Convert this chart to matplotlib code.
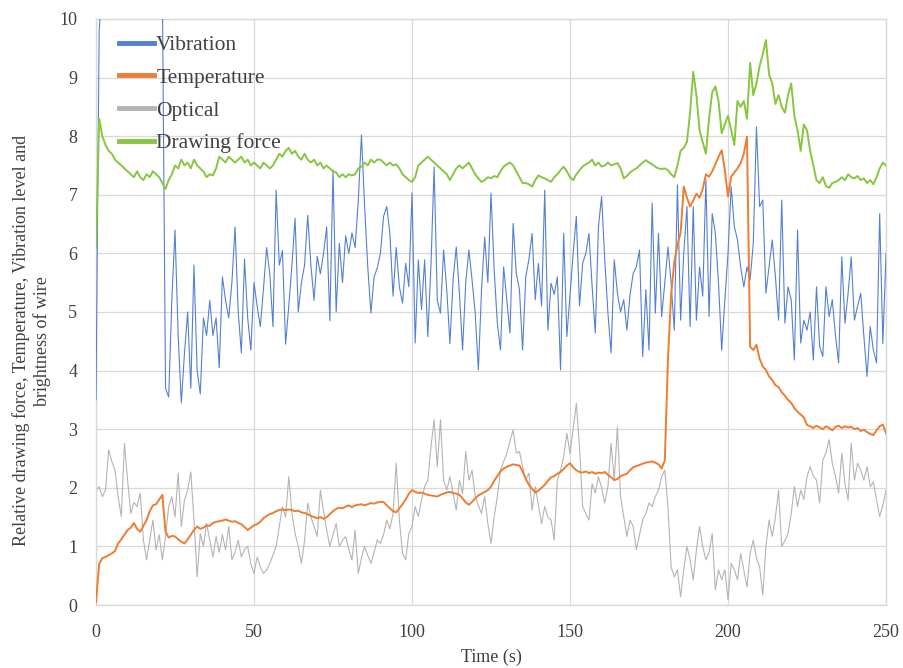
import numpy as np
import matplotlib
matplotlib.use("Agg")
import matplotlib.pyplot as plt
from matplotlib.lines import Line2D

plt.rcParams['font.family'] = ['Liberation Serif', 'DejaVu Serif']

time_s = list(range(0, 251))

# values between t=2 and t=21 run above the top of the axis (clipped)
vibration = [
    3.5, 9.8, 10.5, 10.5, 10.5, 10.5, 10.5, 10.5, 10.5, 10.5,
    10.5, 10.5, 10.5, 10.5, 10.5, 10.5, 10.5, 10.5, 10.5, 10.5,
    10.5, 10.5, 3.7, 3.55, 5.2, 6.4, 4.6, 3.45, 4.3, 5.0,
    3.7, 5.8, 4.0, 3.6, 4.9, 4.6, 5.2, 4.6, 4.9, 4.05,
    5.6, 5.2, 4.9, 5.5, 6.45, 5.0, 4.3, 5.9, 4.9, 4.35,
    5.5, 5.1, 4.75, 5.4, 6.1, 5.65, 4.75, 7.08, 5.8, 6.05,
    4.45, 5.1, 5.8, 6.6, 5.0, 5.5, 5.8, 6.65, 5.8, 5.2,
    5.95, 5.65, 6.0, 6.45, 4.85, 7.42, 5.0, 6.17, 5.5, 6.3,
    6.0, 6.35, 6.1, 6.9, 8.02, 6.8, 5.77, 4.98, 5.6, 5.75,
    6.0, 6.63, 6.8, 6.34, 5.27, 6.1, 5.43, 5.15, 5.83, 5.43,
    7.03, 4.47, 5.89, 5.04, 5.89, 4.58, 5.8, 7.48, 5.2, 4.98,
    6.06, 5.38, 4.46, 5.55, 6.11, 5.32, 4.35, 5.5, 6.06, 5.55,
    4.98, 4.01, 5.38, 6.28, 5.5, 7.03, 5.72, 4.81, 4.35, 5.77,
    5.2, 4.64, 6.51, 5.66, 5.38, 4.35, 5.6, 5.9, 6.34, 5.21,
    5.83, 5.1, 7.08, 4.69, 5.49, 5.3, 5.6, 4.01, 6.34, 4.58,
    5.3, 6.0, 6.63, 5.1, 5.83, 6.0, 6.34, 5.43, 4.64, 6.46,
    6.97, 5.89, 4.98, 4.3, 5.89, 5.32, 5.0, 5.21, 4.69, 5.3,
    5.66, 5.77, 6.06, 4.24, 5.38, 4.35, 6.86, 4.98, 6.34, 4.92,
    5.5, 6.11, 5.49, 4.69, 7.17, 4.86, 6.0, 6.8, 4.75, 6.8,
    4.86, 5.77, 5.27, 7.25, 4.92, 6.68, 6.34, 5.49, 4.35, 5.2,
    6.0, 7.14, 6.46, 6.23, 5.77, 5.43, 5.77, 5.55, 6.17, 8.16,
    6.8, 6.91, 5.32, 5.77, 6.23, 5.6, 4.86, 6.91, 4.81, 5.43,
    5.21, 4.18, 6.4, 4.47, 4.86, 4.69, 5.0, 4.18, 5.43, 4.41,
    4.24, 5.43, 4.92, 5.21, 4.6, 4.13, 5.94, 4.81, 5.32, 5.94,
    4.86, 5.1, 5.32, 4.58, 3.9, 4.75, 4.35, 4.13, 6.68, 4.46,
    6.0,
]

temperature = [
    0.05, 0.7, 0.8, 0.82, 0.85, 0.88, 0.92, 1.05, 1.12, 1.2,
    1.28, 1.32, 1.4, 1.3, 1.25, 1.35, 1.45, 1.6, 1.7, 1.72,
    1.8, 1.88, 1.25, 1.15, 1.18, 1.17, 1.12, 1.08, 1.05, 1.12,
    1.2, 1.28, 1.34, 1.3, 1.32, 1.36, 1.35, 1.4, 1.42, 1.43,
    1.44, 1.46, 1.44, 1.42, 1.43, 1.4, 1.38, 1.33, 1.28, 1.32,
    1.36, 1.38, 1.42, 1.48, 1.52, 1.55, 1.57, 1.6, 1.62, 1.63,
    1.62, 1.63, 1.62, 1.6, 1.61, 1.58, 1.57, 1.55, 1.52, 1.5,
    1.48, 1.5, 1.47, 1.5, 1.55, 1.6, 1.64, 1.66, 1.65, 1.68,
    1.7, 1.67, 1.7, 1.71, 1.72, 1.7, 1.72, 1.74, 1.73, 1.75,
    1.76, 1.76, 1.7, 1.65, 1.6, 1.58, 1.65, 1.72, 1.8, 1.9,
    1.96, 1.93, 1.91, 1.92, 1.9, 1.88, 1.87, 1.86, 1.85, 1.88,
    1.9, 1.92, 1.93, 1.91, 1.9, 1.88, 1.82, 1.75, 1.71, 1.76,
    1.82, 1.87, 1.9, 1.93, 1.96, 2.02, 2.12, 2.2, 2.28, 2.33,
    2.36, 2.38, 2.4, 2.39, 2.38, 2.28, 2.15, 2.05, 1.98, 1.92,
    1.95, 2.0, 2.05, 2.12, 2.18, 2.2, 2.24, 2.27, 2.32, 2.38,
    2.42, 2.35, 2.3, 2.27, 2.26, 2.28, 2.25, 2.27, 2.24, 2.26,
    2.25, 2.27, 2.22, 2.18, 2.13, 2.15, 2.2, 2.22, 2.24, 2.3,
    2.35, 2.37, 2.39, 2.41, 2.43, 2.44, 2.45, 2.43, 2.4, 2.33,
    2.47, 4.2, 5.3, 5.85, 6.15, 6.35, 7.14, 6.95, 6.8, 6.9,
    7.02, 6.95, 7.1, 7.35, 7.31, 7.4, 7.52, 7.65, 7.76, 7.42,
    6.97, 7.31, 7.38, 7.45, 7.54, 7.7, 7.99, 4.41, 4.35, 4.44,
    4.2, 4.07, 4.01, 3.9, 3.84, 3.75, 3.72, 3.63, 3.57, 3.5,
    3.45, 3.36, 3.3, 3.25, 3.2, 3.07, 3.05, 3.02, 3.06, 3.03,
    3.0, 3.05, 3.02, 2.98, 3.04, 3.06, 3.02, 3.05, 3.03, 3.04,
    3.0, 3.02, 2.97, 2.99, 2.95, 2.92, 2.9, 2.98, 3.05, 3.08,
    2.93,
]

optical = [
    1.95, 2.02, 1.85, 1.96, 2.65, 2.45, 2.3, 1.85, 1.51, 2.76,
    2.13, 1.56, 1.75, 1.68, 1.91, 1.11, 0.77, 1.11, 1.45, 0.94,
    1.2, 0.77, 1.17, 1.68, 1.85, 1.5, 2.25, 1.34, 1.79, 1.96,
    2.27, 1.45, 0.48, 1.22, 1.0, 1.39, 1.1, 0.82, 1.17, 0.9,
    1.2, 0.94, 1.34, 0.77, 0.9, 1.11, 0.82, 0.95, 1.0, 0.7,
    0.54, 0.82, 0.65, 0.54, 0.6, 0.71, 0.85, 1.0, 1.34, 1.68,
    1.5, 2.19, 1.57, 1.22, 1.0, 0.71, 1.1, 1.74, 1.5, 1.34,
    1.17, 1.96, 1.6, 1.28, 1.0, 1.2, 1.39, 1.0, 1.1, 1.17,
    0.95, 0.77, 1.28, 0.54, 0.8, 1.0, 0.85, 0.71, 0.9, 1.11,
    1.05, 1.2, 1.45, 1.3, 1.56, 2.42, 1.45, 0.88, 0.77, 1.22,
    1.34, 1.68, 1.51, 1.79, 2.02, 2.13, 2.7, 3.16, 2.36, 3.16,
    2.13, 1.96, 2.19, 1.91, 1.62, 2.13, 1.9, 2.62, 2.13, 2.3,
    1.85, 1.7, 1.56, 1.85, 1.39, 1.05, 1.5, 1.85, 2.3, 2.45,
    2.59, 2.8, 2.99, 2.59, 2.62, 2.36, 2.13, 2.25, 1.62, 2.02,
    1.7, 1.39, 1.68, 1.5, 1.45, 1.11, 2.13, 2.3, 2.53, 2.93,
    2.59, 3.0, 3.44, 2.7, 1.68, 1.56, 1.45, 2.07, 1.91, 2.19,
    2.0, 1.74, 2.02, 2.76, 2.13, 3.04, 1.85, 1.51, 1.17, 1.45,
    1.34, 0.94, 1.2, 1.45, 1.56, 1.74, 1.68, 1.85, 1.96, 2.19,
    2.3, 1.68, 0.65, 0.48, 0.6, 0.14, 0.6, 1.0, 0.77, 0.43,
    0.94, 1.34, 1.0, 0.77, 0.9, 1.22, 0.26, 0.6, 0.43, 0.6,
    0.09, 0.71, 0.6, 0.43, 0.88, 0.6, 0.31, 0.88, 1.11, 0.8,
    0.65, 0.17, 1.0, 1.45, 1.17, 1.5, 1.96, 1.0, 1.1, 1.22,
    1.56, 2.02, 1.68, 1.96, 1.8, 2.19, 2.36, 2.2, 2.13, 1.74,
    2.47, 2.6, 2.82, 2.42, 2.2, 1.91, 2.59, 2.07, 1.79, 2.76,
    2.13, 2.42, 2.3, 2.13, 2.36, 2.02, 2.1, 1.79, 1.51, 1.7,
    1.96,
]

drawing_force = [
    6.1, 8.3, 8.0, 7.85, 7.75, 7.7, 7.6, 7.55, 7.5, 7.45,
    7.4, 7.35, 7.3, 7.4, 7.3, 7.25, 7.35, 7.3, 7.4, 7.35,
    7.3, 7.2, 7.1, 7.25, 7.35, 7.5, 7.45, 7.6, 7.5, 7.55,
    7.45, 7.6, 7.5, 7.45, 7.4, 7.3, 7.35, 7.33, 7.45, 7.65,
    7.6, 7.55, 7.65, 7.6, 7.55, 7.6, 7.65, 7.55, 7.6, 7.5,
    7.55, 7.5, 7.45, 7.55, 7.5, 7.45, 7.5, 7.6, 7.7, 7.65,
    7.75, 7.8, 7.7, 7.75, 7.65, 7.6, 7.7, 7.6, 7.55, 7.6,
    7.5, 7.55, 7.45, 7.5, 7.45, 7.4, 7.38, 7.3, 7.35, 7.3,
    7.35, 7.33, 7.35, 7.45, 7.48, 7.55, 7.5, 7.6, 7.55, 7.6,
    7.6, 7.55, 7.5, 7.55, 7.5, 7.52, 7.45, 7.35, 7.3, 7.25,
    7.22, 7.3, 7.5, 7.55, 7.6, 7.65, 7.6, 7.55, 7.5, 7.45,
    7.4, 7.35, 7.25, 7.35, 7.45, 7.5, 7.45, 7.5, 7.55, 7.45,
    7.35, 7.28, 7.22, 7.25, 7.3, 7.28, 7.32, 7.3, 7.4, 7.48,
    7.52, 7.55, 7.5, 7.4, 7.3, 7.2, 7.2, 7.18, 7.14, 7.25,
    7.33, 7.3, 7.28, 7.25, 7.22, 7.3, 7.35, 7.42, 7.48, 7.4,
    7.3, 7.25, 7.35, 7.42, 7.48, 7.52, 7.55, 7.6, 7.5, 7.55,
    7.48, 7.5, 7.55, 7.5, 7.52, 7.54, 7.45, 7.28, 7.32, 7.38,
    7.42, 7.45, 7.5, 7.55, 7.59, 7.55, 7.52, 7.48, 7.45, 7.44,
    7.45, 7.42, 7.35, 7.3, 7.5, 7.75, 7.8, 7.9, 8.4, 9.1,
    8.7, 8.1, 7.9, 7.7, 8.3, 8.75, 8.85, 8.6, 8.05, 8.2,
    8.35, 8.1, 7.85, 8.6, 8.5, 8.6, 8.3, 9.25, 8.7, 8.9,
    9.2, 9.4, 9.64, 9.05, 8.9, 8.55, 8.7, 8.5, 8.4, 8.7,
    8.9, 8.35, 8.1, 7.75, 8.2, 8.1, 7.75, 7.5, 7.25, 7.2,
    7.3, 7.15, 7.12, 7.2, 7.22, 7.25, 7.3, 7.25, 7.35, 7.3,
    7.28, 7.32, 7.25, 7.28, 7.2, 7.25, 7.18, 7.3, 7.45, 7.55,
    7.5,
]

series_labels = ["Vibration", "Temperature", "Optical", "Drawing force"]
x_ticks = [0, 50, 100, 150, 200, 250]
y_ticks = list(range(0, 11))

colors = {
    "Vibration": "#5480D2",
    "Temperature": "#ED7D31",
    "Optical": "#B4B4B4",
    "Drawing force": "#88C640",
}

fig = plt.figure(figsize=(9.04, 6.68), dpi=100)
ax = fig.add_axes([0.1062, 0.0943, 0.8739, 0.8773])

ax.plot(time_s, vibration, color=colors["Vibration"], lw=0.8, zorder=3)
ax.plot(time_s, temperature, color=colors["Temperature"], lw=1.4, zorder=5)
ax.plot(time_s, optical, color=colors["Optical"], lw=0.8, zorder=2)
ax.plot(time_s, drawing_force, color=colors["Drawing force"], lw=1.4, zorder=4)

ax.set_xlim(0, 250)
ax.set_ylim(0, 10)
ax.set_xticks(x_ticks)
ax.set_yticks(y_ticks)
ax.grid(True, color="#D9D9D9", lw=0.9, zorder=0)
ax.set_axisbelow(True)
for s in ax.spines.values():
    s.set_color("#D9D9D9")
    s.set_linewidth(1.0)
ax.tick_params(length=0, labelsize=13, colors="#404040", pad=13.5)

ax.set_xlabel("Time (s)", fontsize=13, color="#404040", labelpad=6)
fig.text(0.035, 0.49,
         "Relative drawing force, Temperature, Vibration level and\nbrightness of wire",
         rotation=90, ha="center", va="center", fontsize=13, color="#404040",
         multialignment="center")

handles = [Line2D([], [], color=colors[k], lw=3.5) for k in series_labels]
leg = ax.legend(handles, series_labels, loc="upper left", bbox_to_anchor=(0.029, 0.9726),
                frameon=False, fontsize=15.5, handlelength=1.63, handletextpad=0.1,
                labelspacing=0.59, borderpad=0.0, borderaxespad=0.0)
for t in leg.get_texts():
    t.set_color("#404040")
leg.set_zorder(10)

fig.savefig("out.png", dpi=100)
